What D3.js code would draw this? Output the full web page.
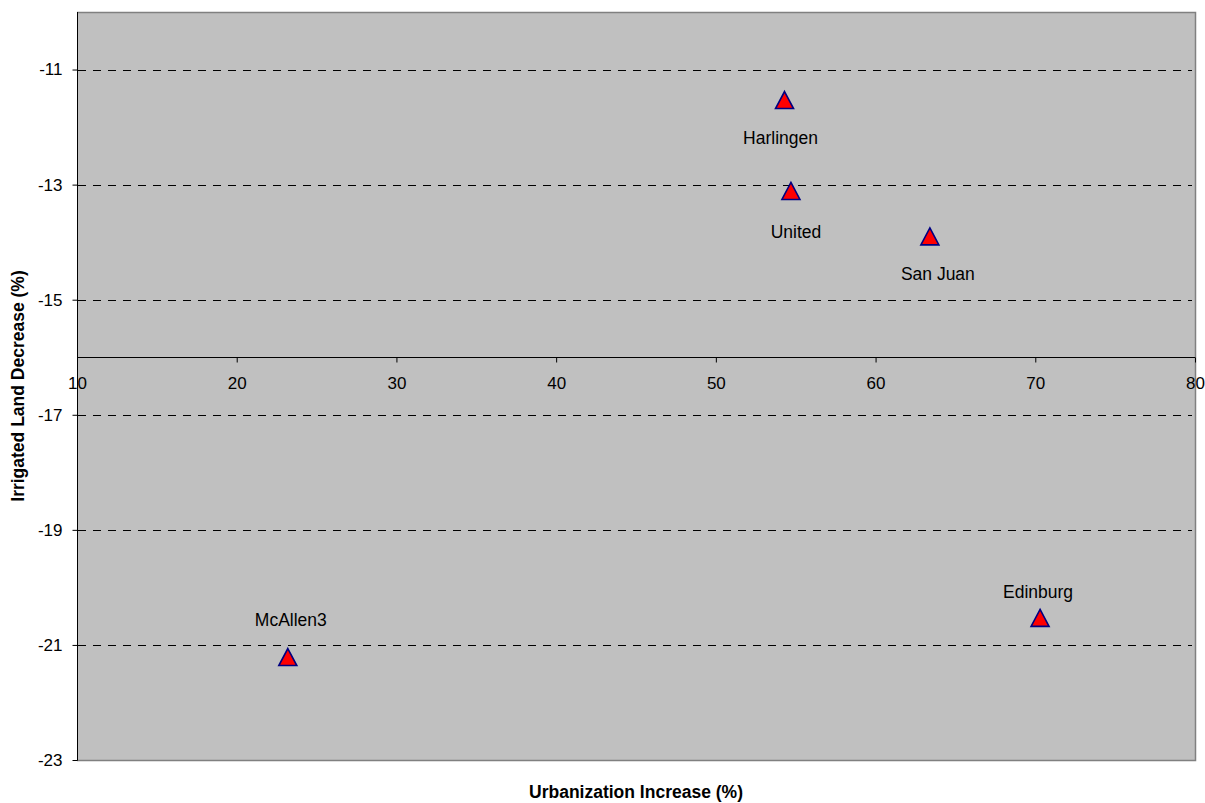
<!DOCTYPE html>
<html>
<head>
<meta charset="utf-8">
<script src="https://cdn.jsdelivr.net/npm/d3@7"></script>
<style>
  html, body { margin: 0; padding: 0; background: #ffffff; }
  svg { display: block; font-family: "Liberation Sans", Arial, sans-serif; }
</style>
</head>
<body>
<svg id="chart" width="1205" height="803"></svg>
<script>
// Irrigation districts: urbanization increase vs irrigated land decrease
const districts = ["Harlingen", "United", "San Juan", "McAllen3", "Edinburg"];
const urbanIncrease = [54.3, 54.7, 63.4, 23.2, 70.3];
const irrigatedDecrease = [-11.53, -13.11, -13.9, -21.21, -20.53];

const xTicks = [10, 20, 30, 40, 50, 60, 70, 80];
const yTicks = [-23, -21, -19, -17, -15, -13, -11];

// Label placement relative to each marker (pixels)
const labelOffsets = [[-4, 38], [5, 41], [8, 37], [3, -37], [-2, -26]];

const svg = d3.select("#chart");
const plot = { left: 77, top: 12, right: 1195, bottom: 760 };

const x = d3.scaleLinear().domain([10, 80]).range([plot.left, plot.right]);
const y = d3.scaleLinear().domain([-23, -10]).range([plot.bottom, plot.top]);

// Plain hyphen-minus for negative tick values
const fmt = d => String(d);

// Plot background
svg.append("rect")
  .attr("x", plot.left).attr("y", plot.top)
  .attr("width", plot.right - plot.left).attr("height", plot.bottom - plot.top)
  .attr("fill", "#c0c0c0");

// Dashed horizontal gridlines
svg.append("g")
  .selectAll("line")
  .data(yTicks.filter(d => d !== -23))
  .join("line")
  .attr("x1", plot.left + 1).attr("x2", plot.right - 3)
  .attr("y1", d => Math.round(y(d)) + 0.5).attr("y2", d => Math.round(y(d)) + 0.5)
  .attr("stroke", "#000")
  .attr("stroke-width", 1)
  .attr("stroke-dasharray", "8,7");

// Plot border (top, right, bottom)
svg.append("path")
  .attr("d", `M${plot.left},${plot.top + 0.5}H${plot.right + 0.5}V${plot.bottom + 0.5}H${plot.left}`)
  .attr("fill", "none")
  .attr("stroke", "#808080")
  .attr("stroke-width", 1.5);

// Y axis
const yAxis = svg.append("g")
  .attr("transform", `translate(${plot.left + 0.5},0)`)
  .call(d3.axisLeft(y).tickValues(yTicks).tickSize(5).tickPadding(10).tickFormat(fmt));
yAxis.select(".domain").attr("stroke", "#000").attr("d", `M0,${plot.top}V${plot.bottom + 0.5}`);
yAxis.selectAll(".tick line").attr("stroke", "#000");
yAxis.selectAll(".tick text")
  .attr("font-size", 17).attr("fill", "#000")
  .attr("font-family", "Liberation Sans, Arial, sans-serif");

// X axis crossing at y = -16
const xAxis = svg.append("g")
  .attr("transform", `translate(0,${Math.round(y(-16)) + 0.5})`)
  .call(d3.axisBottom(x).tickValues(xTicks).tickSize(5).tickPadding(14).tickFormat(fmt));
xAxis.select(".domain").attr("stroke", "#000").attr("d", `M${plot.left},0H${plot.right}`);
xAxis.selectAll(".tick line").attr("stroke", "#000");
xAxis.selectAll(".tick text")
  .attr("font-size", 17).attr("fill", "#000")
  .attr("font-family", "Liberation Sans, Arial, sans-serif");

// Axis titles
svg.append("text")
  .attr("x", (plot.left + plot.right) / 2).attr("y", 798)
  .attr("text-anchor", "middle")
  .attr("font-size", 17.5).attr("font-weight", "bold")
  .text("Urbanization Increase (%)");

svg.append("text")
  .attr("transform", `translate(24,${(plot.top + plot.bottom) / 2}) rotate(-90)`)
  .attr("text-anchor", "middle")
  .attr("font-size", 17.5).attr("font-weight", "bold")
  .text("Irrigated Land Decrease (%)");

// Triangle markers
const tri = "M0,-8.5L9,8.5L-9,8.5Z";
const pts = districts.map((name, i) => ({ name, xv: urbanIncrease[i], yv: irrigatedDecrease[i], off: labelOffsets[i] }));

svg.append("g")
  .selectAll("path")
  .data(pts)
  .join("path")
  .attr("d", tri)
  .attr("transform", d => `translate(${x(d.xv)},${y(d.yv)})`)
  .attr("fill", "#ff0000")
  .attr("stroke", "#000080")
  .attr("stroke-width", 1.6)
  .attr("stroke-linejoin", "miter");

// Data labels
svg.append("g")
  .selectAll("text")
  .data(pts)
  .join("text")
  .attr("x", d => x(d.xv) + d.off[0])
  .attr("y", d => y(d.yv) + d.off[1])
  .attr("dy", "0.35em")
  .attr("text-anchor", "middle")
  .attr("font-size", 17.5)
  .attr("fill", "#000")
  .text(d => d.name);
</script>
</body>
</html>
